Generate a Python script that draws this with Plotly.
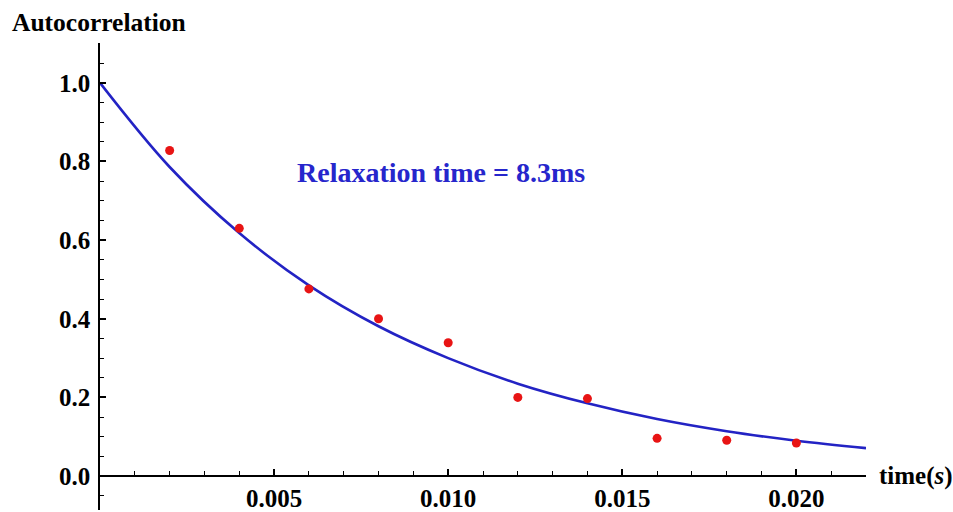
import plotly.graph_objects as go

# Measured autocorrelation points
time_s = [0.002, 0.004, 0.006, 0.008, 0.010, 0.012, 0.014, 0.016, 0.018, 0.020]
autocorr = [0.828, 0.630, 0.476, 0.400, 0.339, 0.200, 0.197, 0.096, 0.091, 0.084]

# Fitted exponential curve
fit_time = [0.000, 0.002, 0.004, 0.006, 0.008, 0.010, 0.012, 0.014, 0.016, 0.018, 0.020, 0.022]
fit_vals = [1.000, 0.786, 0.618, 0.485, 0.381, 0.300, 0.235, 0.185, 0.145, 0.114, 0.090, 0.071]

x_tickvals = [0.005, 0.010, 0.015, 0.020]
x_ticktext = ["0.005", "0.010", "0.015", "0.020"]
y_tickvals = [0.0, 0.2, 0.4, 0.6, 0.8, 1.0]
y_ticktext = ["0.0", "0.2", "0.4", "0.6", "0.8", "1.0"]

X_RANGE = [0, 0.022]
Y_RANGE = [-0.0863, 1.1013]
FONT = "Liberation Serif"

fig = go.Figure()
fig.add_trace(go.Scatter(
    x=fit_time, y=fit_vals, mode="lines",
    line=dict(color="#2323c4", width=2.6, shape="spline", smoothing=1.0),
    hoverinfo="skip", showlegend=False,
))
fig.add_trace(go.Scatter(
    x=time_s, y=autocorr, mode="markers",
    marker=dict(color="#e81414", size=9),
    showlegend=False,
))

tickfont = dict(family=FONT, size=25, color="black", weight="bold")
x_pos = (0 - Y_RANGE[0]) / (Y_RANGE[1] - Y_RANGE[0])

fig.update_layout(
    width=953, height=512,
    margin=dict(l=100, r=87, t=43, b=0),
    paper_bgcolor="white", plot_bgcolor="white",
    xaxis=dict(
        range=X_RANGE, anchor="free", position=x_pos,
        showgrid=False, zeroline=False,
        showline=True, linecolor="black", linewidth=1.5,
        ticks="inside", ticklen=6, tickwidth=1.5, tickcolor="black",
        tickvals=x_tickvals, ticktext=x_ticktext, tickfont=tickfont,
        minor=dict(ticks="inside", dtick=0.001, tick0=0, ticklen=4,
                   tickwidth=1.2, tickcolor="black", showgrid=False),
    ),
    yaxis=dict(
        range=Y_RANGE, showgrid=False, zeroline=False,
        showline=True, linecolor="black", linewidth=1.5,
        ticks="inside", ticklen=6, tickwidth=1.5, tickcolor="black",
        tickvals=y_tickvals, ticktext=y_ticktext, tickfont=tickfont,
        ticklabelstandoff=3,
        minor=dict(ticks="inside", dtick=0.05, tick0=0, ticklen=4,
                   tickwidth=1.2, tickcolor="black", showgrid=False),
    ),
    annotations=[
        dict(text="Relaxation time = 8.3ms", x=0.00979, y=0.772,
             xref="x", yref="y", showarrow=False, xanchor="center", yanchor="middle",
             font=dict(family=FONT, size=28, color="#2626cc", weight="bold")),
        dict(text="Autocorrelation", x=(10 - 100) / 766, y=(512 - 22) / 469,
             xref="paper", yref="paper", showarrow=False, xanchor="left", yanchor="middle",
             font=dict(family=FONT, size=25.5, color="black", weight="bold")),
        dict(text="time(<i>s</i>)", x=(877 - 100) / 766, y=0,
             xref="paper", yref="y", showarrow=False, xanchor="left", yanchor="middle",
             font=dict(family=FONT, size=25, color="black", weight="bold")),
    ],
)

fig.write_html("out.html", config={"displayModeBar": False},
               post_script="document.body.style.margin='0';document.body.style.overflow='hidden';")
